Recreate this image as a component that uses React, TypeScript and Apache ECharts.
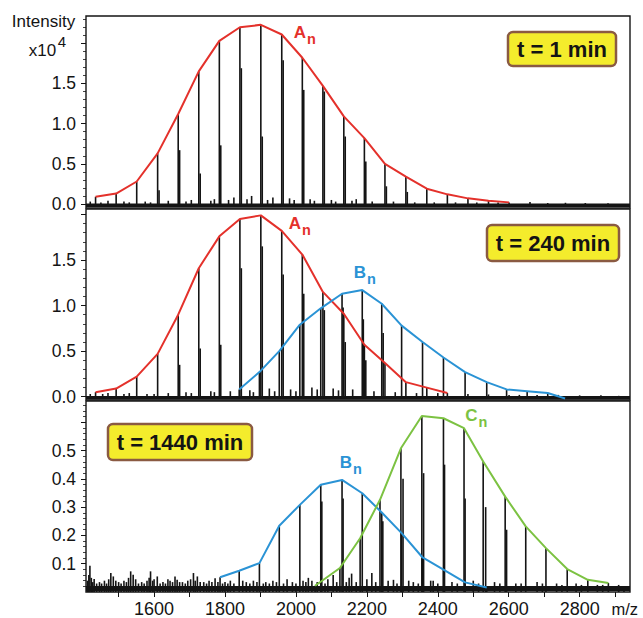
import React, { useEffect, useRef } from 'react';
import * as echarts from 'echarts';

const FONT = 'Liberation Sans, Arial, Helvetica, sans-serif';
const INK = '#141414';
const RED = '#e4312b';
const BLUE = '#2a93d5';
const GREEN = '#7cc242';

// m/z axis
const X_MIN = 1408;
const X_MAX = 2942;
const X_LABELS = [1600, 1800, 2000, 2200, 2400, 2600, 2800];
const X_TICKS = [1500, 1600, 1700, 1800, 1900, 2000, 2100, 2200, 2300, 2400, 2500, 2600, 2700, 2800, 2900];

// Series A_n (peak m/z)
const A_MZ = [1435, 1493, 1551, 1610, 1668, 1726, 1784, 1842, 1901, 1960, 2018, 2076, 2135, 2193, 2251, 2310, 2369, 2427, 2485, 2543, 2601];
// intensities x10^4
const A_T1 = [0.09, 0.13, 0.28, 0.63, 1.12, 1.65, 2.03, 2.2, 2.23, 2.11, 1.82, 1.47, 1.09, 0.82, 0.5, 0.34, 0.19, 0.12, 0.07, 0.04, 0.02];
const A_T240 = [0.05, 0.09, 0.22, 0.47, 0.9, 1.41, 1.76, 1.95, 1.99, 1.82, 1.56, 1.15, 0.91, 0.57, 0.37, 0.16, 0.1, 0.04];

// Series B_n
const B_MZ = [1786, 1840, 1897, 1953, 2011, 2070, 2130, 2187, 2242, 2298, 2357, 2416, 2477, 2538, 2594, 2652, 2710, 2759];
const B_T240 = [null, 0.08, 0.27, 0.5, 0.79, 0.97, 1.13, 1.17, 1.02, 0.78, 0.6, 0.43, 0.27, 0.16, 0.08, 0.06, 0.04, -0.02];
const B_T1440 = [0.052, 0.075, 0.102, 0.234, 0.308, 0.379, 0.396, 0.349, 0.281, 0.208, 0.122, 0.079, 0.034, 0.016, null, null, null, null];

// Series C_n
const C_MZ = [2054, 2124, 2181, 2237, 2296, 2355, 2416, 2474, 2528, 2590, 2648, 2705, 2765, 2823, 2881];
const C_T1440 = [0.022, 0.085, 0.19, 0.326, 0.508, 0.622, 0.614, 0.579, 0.461, 0.337, 0.232, 0.155, 0.081, 0.043, 0.032];

// satellite (shoulder) peaks next to main peaks [m/z, intensity]
const SAT_T1 = [[1614, 0.17], [1672, 0.67], [1730, 0.38], [1788, 0.73], [1846, 1.69], [1905, 0.84], [1964, 1.79], [2022, 1.42], [2080, 1.4], [2139, 0.84], [2197, 0.53], [2255, 0.22], [2314, 0.15]];
const SAT_T240 = [[1672, 0.35], [1730, 0.53], [1788, 0.57], [1846, 1.41], [1905, 1.65], [1964, 1.34], [2022, 1.13], [2080, 0.95], [2139, 0.6], [2197, 0.4], [2133, 0.98], [2190, 0.85], [2246, 0.7]];
const SAT_T1440 = [[2302, 0.4], [2360, 0.42], [2419, 0.45], [2477, 0.33], [2535, 0.3], [2594, 0.22], [2133, 0.33], [2073, 0.32], [2245, 0.25]];

// baseline noise [m/z, intensity]
const NOISE_T1 = [[1420, 0.03], [1450, 0.02], [1470, 0.04], [1515, 0.03], [1530, 0.02], [1575, 0.03], [1590, 0.02], [1640, 0.04], [1690, 0.03], [1705, 0.05], [1760, 0.04], [1770, 0.06], [1810, 0.05], [1825, 0.08], [1862, 0.06], [1875, 0.1], [1920, 0.05], [1935, 0.08], [1982, 0.07], [1995, 0.05], [2040, 0.06], [2052, 0.04], [2100, 0.05], [2112, 0.03], [2158, 0.04], [2170, 0.06], [2215, 0.03], [2275, 0.03], [2335, 0.02], [2390, 0.02], [2450, 0.02], [2510, 0.02], [2570, 0.02], [2660, 0.025], [2710, 0.012], [2760, 0.015], [2816, 0.012], [2880, 0.01]];
const NOISE_T240 = [[1420, 0.03], [1455, 0.03], [1470, 0.04], [1515, 0.03], [1530, 0.04], [1580, 0.03], [1600, 0.03], [1640, 0.04], [1690, 0.05], [1705, 0.04], [1760, 0.06], [1770, 0.05], [1815, 0.06], [1870, 0.07], [1880, 0.05], [1925, 0.09], [1940, 0.06], [1985, 0.08], [2000, 0.06], [2045, 0.1], [2060, 0.08], [2105, 0.09], [2120, 0.07], [2160, 0.08], [2220, 0.06], [2280, 0.05], [2340, 0.04], [2400, 0.04], [2485, 0.03], [2543, 0.025], [2601, 0.02], [2630, 0.02], [2680, 0.02], [2740, 0.02], [2800, 0.015], [2860, 0.015], [2910, 0.01]];
const NOISE_T1440 = [[1412, 0.04], [1416, 0.06], [1419, 0.093], [1423, 0.05], [1427, 0.035], [1431, 0.046], [1438, 0.03], [1446, 0.035], [1452, 0.03], [1460, 0.04], [1466, 0.03], [1472, 0.045], [1478, 0.067], [1485, 0.055], [1492, 0.04], [1500, 0.035], [1507, 0.03], [1515, 0.04], [1522, 0.035], [1528, 0.05], [1534, 0.073], [1541, 0.061], [1548, 0.045], [1556, 0.03], [1565, 0.035], [1572, 0.03], [1580, 0.04], [1586, 0.05], [1590, 0.073], [1596, 0.04], [1600, 0.045], [1609, 0.055], [1617, 0.03], [1625, 0.035], [1632, 0.03], [1639, 0.045], [1645, 0.04], [1652, 0.035], [1659, 0.055], [1665, 0.043], [1672, 0.035], [1680, 0.035], [1688, 0.03], [1695, 0.04], [1703, 0.045], [1711, 0.067], [1716, 0.04], [1722, 0.055], [1730, 0.035], [1740, 0.035], [1748, 0.03], [1755, 0.04], [1763, 0.035], [1772, 0.049], [1780, 0.035], [1793, 0.03], [1800, 0.035], [1808, 0.03], [1815, 0.04], [1825, 0.03], [1850, 0.04], [1860, 0.035], [1870, 0.03], [1880, 0.04], [1890, 0.035], [1908, 0.03], [1915, 0.035], [1925, 0.03], [1935, 0.04], [1945, 0.035], [1965, 0.03], [1975, 0.045], [1990, 0.035], [2000, 0.03], [2020, 0.04], [2028, 0.035], [2035, 0.05], [2045, 0.04], [2060, 0.035], [2082, 0.03], [2090, 0.045], [2105, 0.06], [2115, 0.035], [2142, 0.035], [2150, 0.05], [2157, 0.065], [2170, 0.035], [2200, 0.045], [2214, 0.067], [2225, 0.035], [2260, 0.04], [2275, 0.043], [2285, 0.03], [2318, 0.04], [2331, 0.035], [2345, 0.03], [2380, 0.04], [2387, 0.04], [2400, 0.03], [2440, 0.035], [2455, 0.03], [2500, 0.04], [2515, 0.03], [2560, 0.035], [2575, 0.03], [2620, 0.03], [2635, 0.03], [2680, 0.035], [2695, 0.03], [2735, 0.03], [2750, 0.025], [2790, 0.03], [2805, 0.025], [2850, 0.025], [2865, 0.025], [2910, 0.025], [2925, 0.02]];

// y-axis ticks
const Y1_LABELS = [0, 0.5, 1.0, 1.5];
const Y1_MAJOR = [0, 0.5, 1.0, 1.5, 2.0];
const Y3_LABELS = [0.1, 0.2, 0.3, 0.4, 0.5];
const Y3_MAJOR = [0.1, 0.2, 0.3, 0.4, 0.5, 0.6];

function steps(from: number, to: number, step: number) {
  const out: number[] = [];
  const n = Math.round((to - from) / step);
  for (let i = 0; i <= n; i++) out.push(Math.round((from + i * step) * 1000) / 1000);
  return out;
}

function pairs(mz: number[], vals: (number | null)[]) {
  const out: number[][] = [];
  for (let i = 0; i < vals.length; i++) {
    const v = vals[i];
    if (v !== null && v !== undefined) out.push([mz[i], v]);
  }
  return out;
}

const GRIDS = [
  { top: 16, height: 192, min: -0.05, max: 2.34 },
  { top: 209, height: 191, min: -0.036, max: 2.06 },
  { top: 401, height: 191, min: 0, max: 0.675 },
];

function stickRender(params: any, api: any) {
  const x = api.value(0);
  const h = api.value(1);
  const base = api.coord([x, 0]);
  const top = api.coord([x, h]);
  return {
    type: 'line',
    shape: { x1: base[0], y1: base[1], x2: top[0], y2: top[1] },
    style: { stroke: INK, lineWidth: 1.6 },
  };
}

function subLabel(x: number, y: number, letter: string, color: string) {
  return [
    { type: 'text', x, y, z: 100, style: { text: letter, fontSize: 17, fontWeight: 'bold', fill: color, align: 'center', verticalAlign: 'middle', fontFamily: FONT } },
    { type: 'text', x: x + 11.5, y: y + 6.5, z: 100, style: { text: 'n', fontSize: 14.5, fontWeight: 'bold', fill: color, align: 'center', verticalAlign: 'middle', fontFamily: FONT } },
  ];
}

function timeBox(x: number, y: number, w: number, h: number, label: string) {
  return [
    { type: 'rect', z: 100, shape: { x, y, width: w, height: h, r: 5 }, style: { fill: '#f4ec2c', stroke: '#8a5a42', lineWidth: 2.5 } },
    { type: 'text', z: 101, x: x + w / 2, y: y + h / 2 + 0.5, style: { text: label, fontSize: 22, fontWeight: 'bold', fill: INK, align: 'center', verticalAlign: 'middle', fontFamily: FONT } },
  ];
}

export default function App() {
  const ref = useRef<HTMLDivElement>(null);
  useEffect(() => {
    if (!ref.current) return;
    const chart = echarts.init(ref.current, null, { renderer: 'svg' });

    const grid = GRIDS.map((g) => ({
      left: 86, right: 13, top: g.top, height: g.height, show: true,
      borderColor: INK, borderWidth: 1.4, backgroundColor: 'transparent',
    }));

    const xAxis = GRIDS.map((g, i) => ({
      type: 'value', gridIndex: i, min: X_MIN, max: X_MAX,
      axisLine: { show: false }, splitLine: { show: false },
      axisTick: { show: i === 2, customValues: X_TICKS, length: 5, lineStyle: { color: INK, width: 1 } },
      axisLabel: { show: i === 2, customValues: X_LABELS, fontSize: 18, color: INK, margin: 8, fontFamily: FONT, formatter: (v: number) => String(v) },
    }));

    const yAxis: any[] = [];
    GRIDS.forEach((g, i) => {
      const labels = i === 2 ? Y3_LABELS : Y1_LABELS;
      const major = i === 2 ? Y3_MAJOR : Y1_MAJOR;
      const minor = i === 2 ? steps(0.02, 0.66, 0.02) : steps(0.1, i === 0 ? 2.3 : 2.0, 0.1);
      yAxis.push({
        type: 'value', gridIndex: i, min: g.min, max: g.max, position: 'left',
        axisLine: { show: false }, splitLine: { show: false },
        axisTick: { show: true, customValues: major, length: 5, lineStyle: { color: INK, width: 1 } },
        axisLabel: { show: true, customValues: labels, fontSize: 17.5, color: INK, margin: 10, fontFamily: FONT, formatter: (v: number) => v.toFixed(1) },
      });
      yAxis.push({
        type: 'value', gridIndex: i, min: g.min, max: g.max, position: 'left',
        axisLine: { show: false }, splitLine: { show: false },
        axisTick: { show: true, customValues: minor, length: 3, lineStyle: { color: INK, width: 0.8 } },
        axisLabel: { show: false },
      });
    });

    const sticks = [
      [...pairs(A_MZ, A_T1), ...SAT_T1, ...NOISE_T1],
      [...pairs(A_MZ, A_T240), ...pairs(B_MZ, B_T240), ...SAT_T240, ...NOISE_T240],
      [...pairs(B_MZ, B_T1440), ...pairs(C_MZ, C_T1440), ...SAT_T1440, ...NOISE_T1440],
    ].map((arr) => arr.filter((p) => p[1] > 0));

    const baselines = [-0.015, -0.012, 0.012];
    const series: any[] = [];
    sticks.forEach((data, i) => {
      series.push({
        type: 'custom', xAxisIndex: i, yAxisIndex: 2 * i, data, renderItem: stickRender,
        encode: { x: 0, y: 1 }, clip: true, z: 2, silent: true,
      });
      series.push({
        type: 'line', xAxisIndex: i, yAxisIndex: 2 * i, data: [[X_MIN, baselines[i]], [X_MAX, baselines[i]]],
        symbol: 'none', lineStyle: { color: INK, width: i === 2 ? 5 : 3.5 }, z: 2, silent: true,
      });
    });
    const envelope = (i: number, data: number[][], color: string) => ({
      type: 'line', xAxisIndex: i, yAxisIndex: 2 * i, data, symbol: 'none',
      lineStyle: { color, width: 2 }, z: 5, silent: true, clip: true,
    });
    series.push(envelope(0, pairs(A_MZ, A_T1), RED));
    series.push(envelope(1, pairs(A_MZ, A_T240), RED));
    series.push(envelope(1, pairs(B_MZ, B_T240), BLUE));
    series.push(envelope(2, pairs(B_MZ, B_T1440), BLUE));
    series.push(envelope(2, pairs(C_MZ, C_T1440), GREEN));

    const graphic: any[] = [
      { type: 'text', x: 43.5, y: 21, z: 100, style: { text: 'Intensity', fontSize: 17, fill: INK, align: 'center', verticalAlign: 'middle', fontFamily: FONT } },
      { type: 'text', x: 42.5, y: 50, z: 100, style: { text: 'x10', fontSize: 17, fill: INK, align: 'center', verticalAlign: 'middle', fontFamily: FONT } },
      { type: 'text', x: 62, y: 41.5, z: 100, style: { text: '4', fontSize: 15, fill: INK, align: 'center', verticalAlign: 'middle', fontFamily: FONT } },
      { type: 'text', x: 638, y: 608.5, z: 100, style: { text: 'm/z', fontSize: 16.5, fill: INK, align: 'right', verticalAlign: 'middle', fontFamily: FONT } },
      ...subLabel(300, 32.5, 'A', RED),
      ...subLabel(295, 223, 'A', RED),
      ...subLabel(360, 272, 'B', BLUE),
      ...subLabel(346, 462.5, 'B', BLUE),
      ...subLabel(471.5, 415.5, 'C', GREEN),
      ...timeBox(508, 32, 108, 34, 't = 1 min'),
      ...timeBox(487, 225, 132, 36, 't = 240 min'),
      ...timeBox(108, 424, 144, 36, 't = 1440 min'),
    ];

    chart.setOption({
      animation: false,
      backgroundColor: '#ffffff',
      grid, xAxis, yAxis, series, graphic,
    });
    return () => chart.dispose();
  }, []);
  return <div ref={ref} style={{ position: 'absolute', left: 0, top: 0, width: 643, height: 618 }} />;
}
